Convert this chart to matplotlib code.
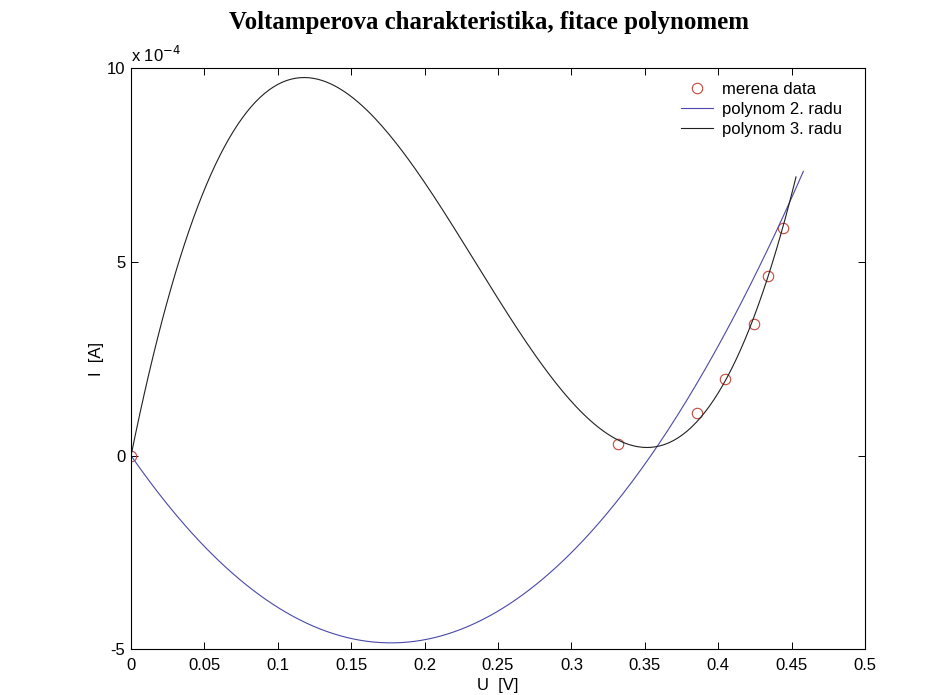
import numpy as np
import matplotlib
matplotlib.use("Agg")
from matplotlib import pyplot

# measured data (U in V, I in A)
u_data = [0.0, 0.332, 0.3855, 0.4045, 0.4245, 0.434, 0.444]
i_data = [0.0, 0.29e-4, 1.11e-4, 1.99e-4, 3.39e-4, 4.64e-4, 5.88e-4]

# fitted polynomials (I in 1e-4 A, U in V)
p2_coef = [154.2, -54.6, 0.0]
p3_coef = [1499.3, -1055.6, 186.4, 0.0]
u_end_2 = 0.458
u_end_3 = 0.453

title = 'Voltamperova charakteristika, fitace polynomem'
legend_labels = ['merena data', 'polynom 2. radu', 'polynom 3. radu']

u = np.asarray(u_data)
i = np.asarray(i_data)

x2 = np.linspace(0, u_end_2, 300)
x3 = np.linspace(0, u_end_3, 300)

pyplot.rcParams['font.family'] = ['Liberation Sans', 'DejaVu Sans']
pyplot.rcParams['axes.unicode_minus'] = False

fig = pyplot.figure(figsize=(9.38, 6.95), dpi=100)
ax = fig.add_axes([0.1397, 0.0657, 0.7825, 0.8361])

scale = 1e4
ax.plot(u, i * scale, 'o', mfc='none', mec='#c8463c', ms=7.5, mew=0.8, label=legend_labels[0])
ax.plot(x2, np.polyval(p2_coef, x2), color='#4a48a8', lw=0.8, label=legend_labels[1])
ax.plot(x3, np.polyval(p3_coef, x3), color='#202020', lw=0.8, label=legend_labels[2])

ax.set_xlim(0, 0.5)
ax.set_ylim(-5, 10)
ax.set_xticks(np.arange(0, 0.51, 0.05))
ax.set_xticklabels(['0', '0.05', '0.1', '0.15', '0.2', '0.25', '0.3', '0.35', '0.4', '0.45', '0.5'])
ax.set_yticks([-5, 0, 5, 10])
ax.set_yticklabels(['-5', '0', '5', '10'])
ax.tick_params(direction='in', length=5, width=0.7, labelsize=12, top=True, right=True)
ax.tick_params(axis='x', pad=6)
ax.tick_params(axis='y', pad=4)
for s in ax.spines.values():
    s.set_linewidth(0.8)

ax.set_xlabel('U  [V]', fontsize=12, labelpad=4)
ax.set_ylabel('I  [A]', fontsize=12, labelpad=2)
ax.text(0.0, 1.005, r'x 10$^{-4}$', transform=ax.transAxes, fontsize=12, ha='left', va='bottom')

fig.text(0.521, 0.968, title, fontsize=17.9, fontweight='bold', family='Liberation Serif',
         ha='center', va='center')

ax.legend(loc='upper right', frameon=False, fontsize=12, handlelength=1.9, handletextpad=0.55,
          labelspacing=0.3, borderaxespad=0.3, bbox_to_anchor=(0.985, 0.996))

fig.savefig('out.png', dpi=100)
